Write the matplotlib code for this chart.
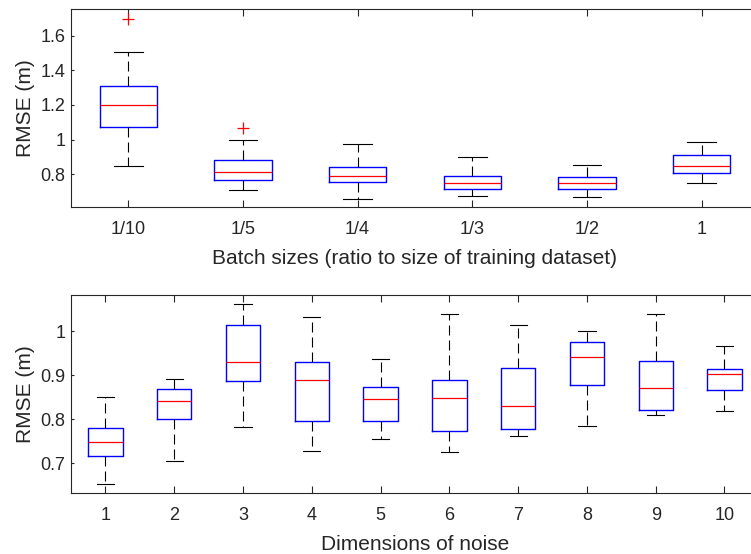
import matplotlib
matplotlib.use("Agg")
import matplotlib.pyplot as plt

plt.rcParams['font.family'] = ['Liberation Sans', 'DejaVu Sans']

# top panel: batch size ratio
batch_labels = ['1/10', '1/5', '1/4', '1/3', '1/2', '1']
batch_whislo = [0.848, 0.711, 0.659, 0.672, 0.668, 0.750]
batch_q1 = [1.071, 0.765, 0.754, 0.713, 0.715, 0.806]
batch_med = [1.202, 0.810, 0.792, 0.750, 0.748, 0.845]
batch_q3 = [1.312, 0.879, 0.842, 0.792, 0.784, 0.912]
batch_whishi = [1.507, 0.995, 0.976, 0.900, 0.850, 0.987]
batch_fliers = [[1.699], [1.067], [], [], [], []]

# bottom panel: noise dimensions
noise_labels = ['1', '2', '3', '4', '5', '6', '7', '8', '9', '10']
noise_whislo = [0.652, 0.704, 0.781, 0.728, 0.755, 0.724, 0.762, 0.784, 0.809, 0.8175]
noise_q1 = [0.715, 0.799, 0.886, 0.795, 0.795, 0.772, 0.778, 0.877, 0.820, 0.865]
noise_med = [0.747, 0.840, 0.930, 0.888, 0.845, 0.848, 0.829, 0.942, 0.870, 0.903]
noise_q3 = [0.779, 0.869, 1.014, 0.929, 0.873, 0.888, 0.915, 0.976, 0.9325, 0.914]
noise_whishi = [0.850, 0.892, 1.061, 1.0325, 0.936, 1.038, 1.014, 1.001, 1.038, 0.965]
noise_fliers = [[] for _ in noise_labels]

txt = '#262626'


def make_stats(lo, q1, med, q3, hi, fl):
    return [dict(whislo=a, q1=b, med=c, q3=d, whishi=e, fliers=f)
            for a, b, c, d, e, f in zip(lo, q1, med, q3, hi, fl)]


def draw(ax, stats, labels, ylim, yticks, ytl, xlabel):
    n = len(labels)
    ax.bxp(stats, positions=range(1, n + 1), widths=0.5, capwidths=0.25,
           showfliers=True,
           boxprops=dict(color='blue', linewidth=1.0),
           medianprops=dict(color='red', linewidth=0.9),
           whiskerprops=dict(color='black', linewidth=0.8, linestyle=(0, (9, 4.5))),
           capprops=dict(color='black', linewidth=0.8),
           flierprops=dict(marker='+', markeredgecolor='red', markersize=9,
                           markeredgewidth=0.9, linestyle='none'))
    ax.set_xlim(0.5, n + 0.5)
    ax.set_ylim(*ylim)
    ax.set_xticks(range(1, n + 1))
    ax.set_xticklabels(labels)
    ax.set_yticks(yticks)
    ax.set_yticklabels(ytl)
    ax.tick_params(axis='x', direction='in', top=True, length=5, width=0.8,
                   colors=txt, labelsize=13, pad=10)
    ax.tick_params(axis='y', direction='in', right=True, length=2, width=0.8,
                   colors=txt, labelsize=13, pad=4)
    for s in ax.spines.values():
        s.set_color(txt)
        s.set_linewidth(0.8)
    ax.set_ylabel('RMSE (m)', fontsize=15, color=txt, labelpad=4)
    ax.set_xlabel(xlabel, fontsize=15, color=txt, labelpad=8)


fig = plt.figure(figsize=(7.51, 5.54), dpi=100)
ax1 = fig.add_axes([0.0945, 0.6264, 0.916, 0.3574])
ax2 = fig.add_axes([0.0945, 0.1106, 0.916, 0.3574])

draw(ax1, make_stats(batch_whislo, batch_q1, batch_med, batch_q3, batch_whishi, batch_fliers),
     batch_labels, (0.61, 1.755), [0.8, 1.0, 1.2, 1.4, 1.6], ['0.8', '1', '1.2', '1.4', '1.6'],
     'Batch sizes (ratio to size of training dataset)')
draw(ax2, make_stats(noise_whislo, noise_q1, noise_med, noise_q3, noise_whishi, noise_fliers),
     noise_labels, (0.6325, 1.0825), [0.7, 0.8, 0.9, 1.0], ['0.7', '0.8', '0.9', '1'],
     'Dimensions of noise')

fig.savefig('out.png', dpi=100)
